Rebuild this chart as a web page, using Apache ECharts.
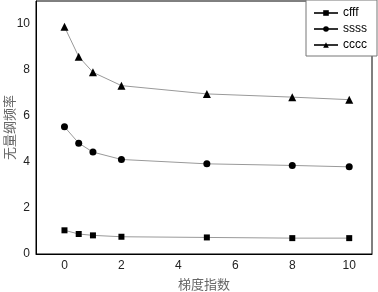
<!DOCTYPE html>
<html lang="zh">
<head>
<meta charset="UTF-8">
<title>梯度指数</title>
<script src="https://cdn.jsdelivr.net/npm/echarts@6/dist/echarts.min.js"></script>
<style>
  html, body { margin: 0; padding: 0; background: #fff; }
</style>
</head>
<body>
<div id="main" style="width:378px;height:292px;"></div>
<script>
// 横坐标：梯度指数
var xValues = [0, 0.5, 1, 2, 5, 8, 10];
// 各系列数值
var cfff = [1.03, 0.87, 0.81, 0.75, 0.72, 0.69, 0.69];
var ssss = [5.53, 4.82, 4.43, 4.11, 3.92, 3.85, 3.79];
var cccc = [9.88, 8.58, 7.90, 7.32, 6.96, 6.82, 6.71];
// 刻度标签
var xTicks = [0, 2, 4, 6, 8, 10];
var yTicks = [0, 2, 4, 6, 8, 10];

function pairs(ys) {
  return xValues.map(function (x, i) { return [x, ys[i]]; });
}

function makeSeries(name, ys, symbol, size) {
  return {
    name: name,
    type: 'line',
    data: pairs(ys),
    symbol: symbol,
    symbolSize: size,
    showAllSymbol: true,
    lineStyle: { color: '#999', width: 1 },
    itemStyle: { color: '#000' },
    emphasis: { disabled: true }
  };
}

var myChart = echarts.init(document.getElementById('main'));

var labelFont = { color: '#222', fontSize: 12, fontFamily: 'Liberation Sans, Arial, sans-serif' };

var option = {
  animation: false,
  grid: {
    left: 36, right: 6, top: 1, bottom: 38,
    outerBoundsMode: 'none',
    containLabel: false,
    show: true, borderColor: '#000', borderWidth: 1
  },
  legend: {
    orient: 'vertical',
    left: 306,
    top: 0,
    padding: [7, 10, 5, 7],
    itemGap: 4,
    itemWidth: 24,
    itemHeight: 7,
    backgroundColor: '#fff',
    borderColor: '#777',
    borderWidth: 1,
    lineStyle: { color: '#333' },
    textStyle: { color: '#000', fontSize: 12, fontFamily: 'Liberation Sans, Arial, sans-serif' },
    data: ['cfff', 'ssss', 'cccc']
  },
  xAxis: {
    type: 'value',
    min: -1,
    max: 10.8,
    name: '梯度指数',
    nameLocation: 'middle',
    nameGap: 24,
    nameMoveOverlap: false,
    nameTextStyle: { color: '#666', fontSize: 13, fontFamily: 'Noto Sans CJK SC' },
    axisLine: { show: true, onZero: false, lineStyle: { color: '#000', width: 1 } },
    axisTick: { show: false },
    splitLine: { show: false },
    axisLabel: Object.assign({ margin: 6, customValues: xTicks }, labelFont)
  },
  yAxis: {
    type: 'value',
    min: 0,
    max: 11,
    name: '无量纲频率',
    nameLocation: 'middle',
    nameGap: 20,
    nameMoveOverlap: false,
    nameTextStyle: { color: '#666', fontSize: 13, fontFamily: 'Noto Sans CJK SC' },
    axisLine: { show: true, onZero: false, lineStyle: { color: '#000', width: 1 } },
    axisTick: { show: false },
    splitLine: { show: false },
    axisLabel: Object.assign({ margin: 6, customValues: yTicks }, labelFont)
  },
  series: [
    makeSeries('cfff', cfff, 'rect', 6),
    makeSeries('ssss', ssss, 'circle', 7),
    makeSeries('cccc', cccc, 'triangle', 8)
  ]
};

myChart.setOption(option);
</script>
</body>
</html>
